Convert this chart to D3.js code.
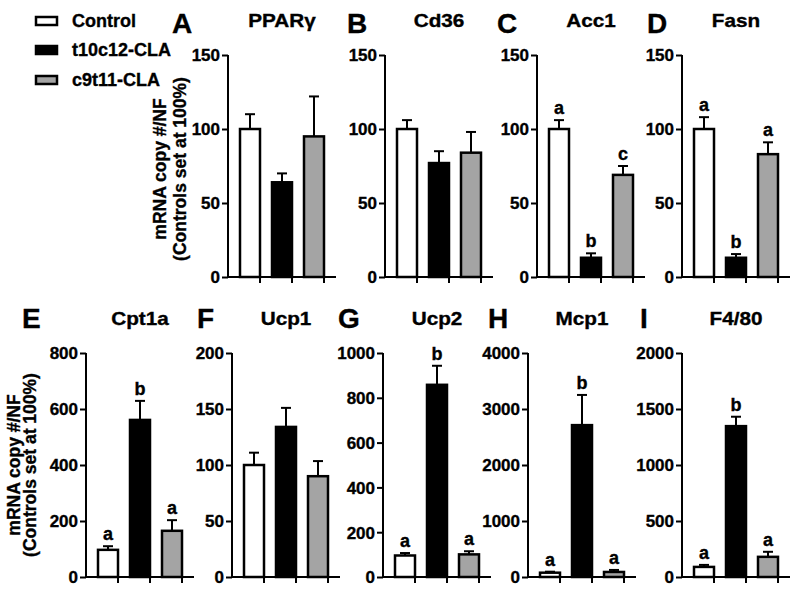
<!DOCTYPE html>
<html><head><meta charset="utf-8">
<script src="https://cdn.jsdelivr.net/npm/d3@7"></script>
<style>
body{margin:0;background:#fff;}
text{font-family:"Liberation Sans",Arial,sans-serif;font-weight:bold;fill:#000;stroke:#000;stroke-width:0.35px;}
</style></head>
<body><svg id="c" width="800" height="590"></svg>
<script>
const groups = ["Control","t10c12-CLA","c9t11-CLA"];
const panelLetters = ["A","B","C","D","E","F","G","H","I"];
const genes = ["PPARγ","Cd36","Acc1","Fasn","Cpt1a","Ucp1","Ucp2","Mcp1","F4/80"];
const means = [
  [100,64,95],[100,77,84],[100,13,69],[100,13,83],
  [97,561,165],[100,134,90],[96,858,101],[77,2712,90],[90,1347,180]
];
const errTops = [
  [110,70,122],[106,85,98],[106,16,75],[108,15.5,91],
  [110,629,203],[111,151,103.5],[107,943,115],[95,3251,126],[108,1431,225]
];
const sigLetters = [
  null,null,["a","b","c"],["a","b","a"],
  ["a","b","a"],null,["a","b","a"],["a","b","a"],["a","b","a"]
];
const yMax = [150,150,150,150,800,200,1000,4000,2000];
const yTickStep = [50,50,50,50,200,50,200,1000,500];
const fills = ["#ffffff","#000000","#a4a4a4"];

// layout
const axisX = [228,385,537,682, 86,232,383,528,682];
const letterX = [172,347,497,647, 22,197,338,488,640];
const rowY = [{bottom:277,top:55,title:27,letter:33},{bottom:577,top:353,title:325,letter:328}];

const svg = d3.select("#c");

for(let i=0;i<9;i++){
  const r = rowY[i<4?0:1];
  const ax = axisX[i];
  const y = d3.scaleLinear().domain([0,yMax[i]]).range([r.bottom,r.top]);
  const x = d3.scaleBand().domain(groups).range([ax+6,ax+102]).paddingInner(0.375).paddingOuter(0.1875);
  const g = svg.append("g");
  const ticks = d3.range(0,yMax[i]+1,yTickStep[i]);
  const ya = g.append("g").attr("transform",`translate(${ax},0)`)
    .call(d3.axisLeft(y).tickValues(ticks).tickSize(6).tickPadding(2).tickFormat(d3.format("d")));
  ya.attr("font-size",null).attr("font-family",null);
  ya.select(".domain").attr("stroke","#000").attr("stroke-width",2).attr("d",`M-0,${r.top}V${r.bottom}`);
  ya.selectAll(".tick line").attr("stroke","#000").attr("stroke-width",2);
  ya.selectAll(".tick text").style("font-size","17px").attr("dy","0.35em");
  const xa = g.append("g").attr("transform",`translate(0,${r.bottom})`)
    .call(d3.axisBottom(x).tickSize(6).tickFormat(""));
  xa.select(".domain").attr("stroke","#000").attr("stroke-width",2).attr("d",`M${ax-1},0H${ax+108}`);
  xa.selectAll(".tick line").attr("stroke","#000").attr("stroke-width",2);
  xa.selectAll(".tick line").attr("transform",`translate(${x.bandwidth()/2},0)`);
  groups.forEach((gr,j)=>{
    const cx = x(gr)+x.bandwidth()/2;
    g.append("line").attr("x1",cx).attr("x2",cx).attr("y1",y(means[i][j])).attr("y2",y(errTops[i][j]))
      .attr("stroke","#000").attr("stroke-width",2);
    g.append("line").attr("x1",cx-5).attr("x2",cx+5).attr("y1",y(errTops[i][j])).attr("y2",y(errTops[i][j]))
      .attr("stroke","#000").attr("stroke-width",2);
  });
  g.selectAll("rect.bar").data(groups).enter().append("rect")
    .attr("x",d=>x(d)).attr("width",x.bandwidth())
    .attr("y",(d,j)=>y(means[i][j])).attr("height",(d,j)=>r.bottom-y(means[i][j]))
    .attr("fill",(d,j)=>fills[j]).attr("stroke","#000").attr("stroke-width",2.5);
  if(sigLetters[i]){
    groups.forEach((gr,j)=>{
      g.append("text").attr("x",x(gr)+x.bandwidth()/2).attr("y",y(errTops[i][j])-6)
        .attr("text-anchor","middle").style("font-size","18px").text(sigLetters[i][j]);
    });
  }
  g.append("text").attr("transform",`translate(${x(groups[1])+x.bandwidth()/2},${r.title}) scale(1.15,1)`)
    .attr("text-anchor","middle").style("font-size","18px").text(genes[i]);
  g.append("text").attr("x",letterX[i]).attr("y",r.letter)
    .style("font-size","28px").text(panelLetters[i]);
}

[[169,160,180],[465,14,30]].forEach(([cy,x1,x2])=>{
  svg.append("text").attr("transform",`translate(${x1+6},${cy}) rotate(-90)`)
    .attr("text-anchor","middle").style("font-size","17.5px").text("mRNA copy #/NF");
  svg.append("text").attr("transform",`translate(${x2+6},${cy}) rotate(-90)`)
    .attr("text-anchor","middle").style("font-size","17.5px").text("(Controls set at 100%)");
});

groups.forEach((gr,j)=>{
  const cy = [21,50,80][j];
  svg.append("rect").attr("x",36).attr("y",cy-4).attr("width",21).attr("height",8)
    .attr("fill",fills[j]).attr("stroke","#000").attr("stroke-width",2.5);
  svg.append("text").attr("x",72).attr("y",cy+6).style("font-size","18px").text(gr);
});
</script></body></html>
